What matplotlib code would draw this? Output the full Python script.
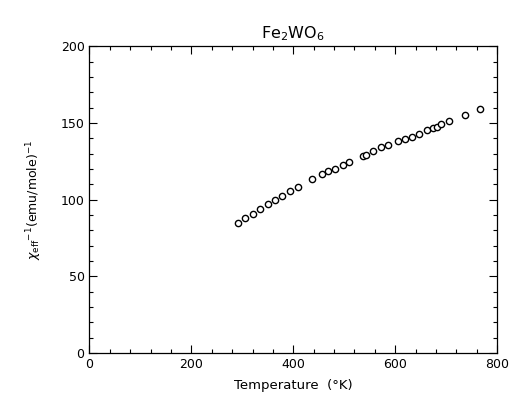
import numpy as np
import matplotlib
matplotlib.use("Agg")
import matplotlib.pyplot as plt
from matplotlib.ticker import MultipleLocator

# data
temperature = [292, 306, 320, 335, 351, 365, 377, 394, 410, 436,
               456, 469, 482, 498, 509, 537, 543, 556, 572, 585,
               605, 619, 632, 647, 662, 674, 682, 690, 706, 737, 767]
inv_chi = [85.1, 87.8, 90.6, 93.8, 97.5, 99.7, 102.5, 105.5, 108.3, 113.5,
           116.4, 118.6, 120.3, 122.9, 124.6, 128.3, 129.4, 131.6, 134.0, 135.5,
           138.3, 139.4, 140.9, 142.7, 145.3, 146.4, 147.4, 149.2, 151.1, 155.0, 158.8]

xticks = [0, 200, 400, 600, 800]
yticks = [0, 50, 100, 150, 200]

fig = plt.figure(figsize=(5.11, 4.05), dpi=100)
ax = fig.add_axes([0.175, 0.128, 0.798, 0.758])

ax.plot(temperature, inv_chi, linestyle="none", marker="o", markersize=4.5,
        markerfacecolor="white", markeredgecolor="black", markeredgewidth=1.0)

ax.set_xlim(0, 800)
ax.set_ylim(0, 200)
ax.set_xticks(xticks)
ax.set_yticks(yticks)
ax.xaxis.set_minor_locator(MultipleLocator(40))
ax.yaxis.set_minor_locator(MultipleLocator(10))
ax.tick_params(which="both", direction="in", top=True, right=True,
               labelsize=9, width=0.8)
ax.tick_params(which="major", length=6)
ax.tick_params(which="minor", length=3)
for s in ax.spines.values():
    s.set_linewidth(0.9)

ax.set_title(r"Fe$_2$WO$_6$", fontsize=11.5, pad=6)
ax.set_xlabel("Temperature  (\u00b0K)", fontsize=9.5, labelpad=6)
ax.set_ylabel(r"$\chi_{\mathrm{eff}}$$^{-1}$(emu/mole)$^{-1}$", fontsize=9, labelpad=12)

fig.savefig("out.png", dpi=100)
